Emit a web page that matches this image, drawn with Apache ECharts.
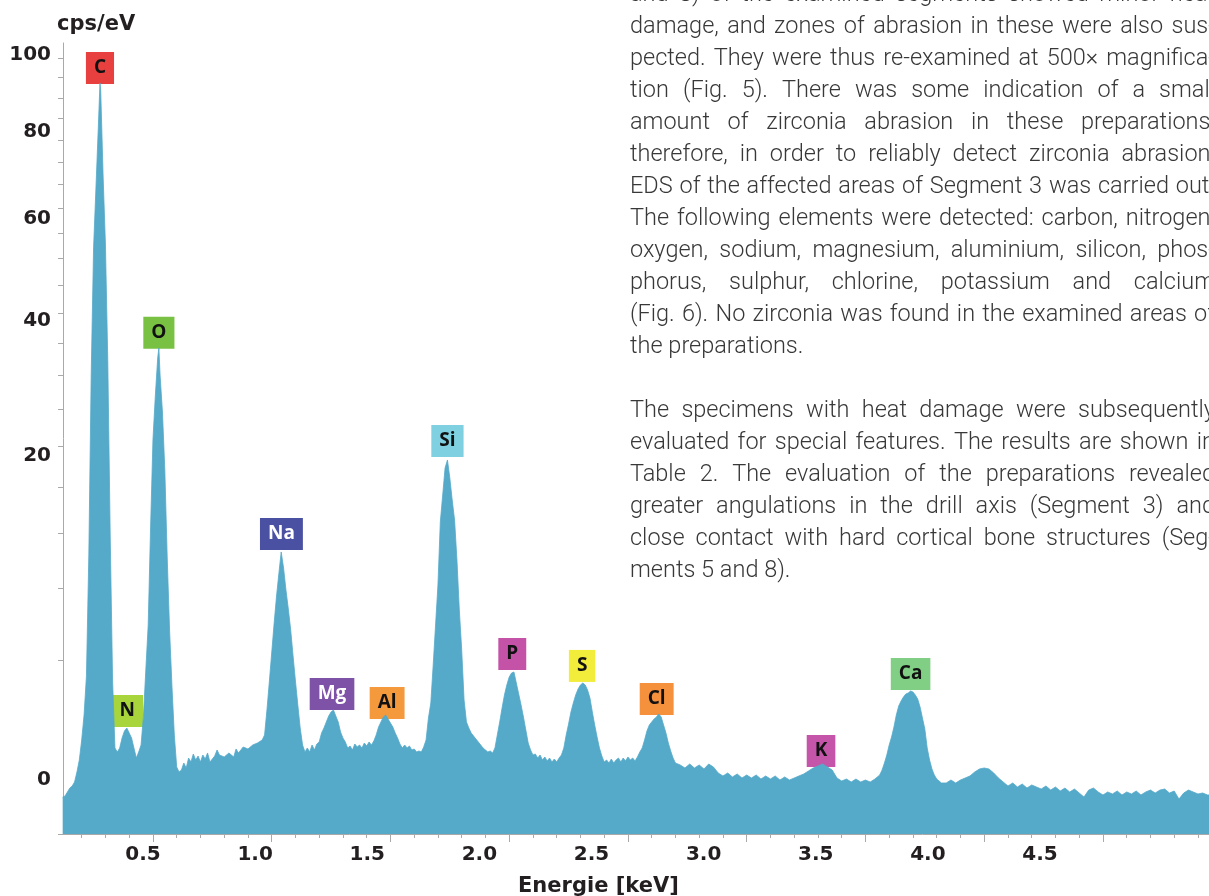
<!DOCTYPE html>
<html>
<head>
<meta charset="utf-8">
<script src="https://cdn.jsdelivr.net/npm/echarts@6/dist/echarts.min.js"></script>
<style>
html,body{margin:0;padding:0;background:#fff;}
#chart{width:1209px;height:896px;}
</style>
</head>
<body>
<div id="chart"></div>
<script>
// ---- Data (cps/eV vs energy in keV) ----
const energies = [
0.12,0.13,0.14,0.15,0.16,0.17,0.18,0.19,0.20,0.21,
0.22,0.23,0.24,0.25,0.26,0.27,0.277,0.28,0.29,0.30,
0.31,0.32,0.33,0.34,0.35,0.36,0.37,0.38,0.39,0.40,
0.41,0.42,0.43,0.44,0.45,0.46,0.47,0.48,0.49,0.50,
0.51,0.52,0.525,0.53,0.54,0.55,0.56,0.57,0.58,0.59,
0.60,0.61,0.62,0.63,0.64,0.65,0.66,0.67,0.68,0.69,
0.70,0.71,0.72,0.73,0.74,0.76,0.77,0.78,0.80,0.82,
0.84,0.85,0.86,0.88,0.90,0.92,0.94,0.96,0.97,0.98,
0.99,1.00,1.01,1.02,1.03,1.04,1.05,1.06,1.07,1.08,
1.09,1.10,1.11,1.12,1.13,1.14,1.15,1.16,1.17,1.18,
1.19,1.20,1.21,1.22,1.23,1.24,1.25,1.26,1.27,1.28,
1.29,1.30,1.31,1.32,1.33,1.34,1.35,1.36,1.37,1.38,
1.39,1.40,1.41,1.42,1.43,1.44,1.45,1.46,1.47,1.48,
1.49,1.50,1.51,1.52,1.53,1.54,1.55,1.56,1.57,1.58,
1.59,1.60,1.61,1.62,1.63,1.64,1.65,1.66,1.67,1.68,
1.69,1.70,1.71,1.72,1.73,1.74,1.75,1.76,1.77,1.78,
1.79,1.80,1.81,1.82,1.83,1.84,1.85,1.86,1.87,1.88,
1.89,1.90,1.91,1.92,1.93,1.94,1.95,1.96,1.97,1.98,
1.99,2.00,2.01,2.02,2.03,2.04,2.05,2.06,2.07,2.08,
2.09,2.10,2.11,2.12,2.13,2.14,2.15,2.16,2.17,2.18,
2.19,2.20,2.21,2.22,2.23,2.24,2.25,2.26,2.27,2.28,
2.29,2.30,2.31,2.32,2.33,2.34,2.35,2.36,2.37,2.38,
2.39,2.40,2.41,2.42,2.43,2.44,2.45,2.46,2.47,2.48,
2.49,2.50,2.51,2.52,2.53,2.54,2.55,2.56,2.57,2.58,
2.59,2.60,2.61,2.62,2.63,2.64,2.65,2.66,2.67,2.68,
2.69,2.70,2.72,2.74,2.76,2.78,2.80,2.82,2.84,2.86,
2.88,2.90,2.92,2.94,2.96,2.98,3.00,3.02,3.04,3.06,
3.08,3.10,3.12,3.14,3.16,3.18,3.20,3.22,3.24,3.26,
3.28,3.30,3.32,3.34,3.36,3.38,3.40,3.42,3.44,3.46,
3.48,3.50,3.52,3.54,3.56,3.57,3.58,3.59,3.60,3.61,
3.62,3.63,3.64,3.65,3.66,3.67,3.68,3.69,3.70,3.71,
3.72,3.73,3.74,3.75,3.76,3.77,3.78,3.79,3.80,3.82,
3.84,3.86,3.88,3.90,3.92,3.94,3.96,3.98,4.00,4.02,
4.04,4.06,4.08,4.10,4.12,4.14,4.16,4.18,4.20,4.22,
4.24,4.26,4.28,4.30,4.32,4.34,4.36,4.38,4.40,4.42,
4.44,4.46,4.48,4.50,4.52,4.54,4.56,4.58,4.60,4.62,
4.64,4.66,4.68,4.70,4.72,4.74,4.76,4.78,4.80,4.82,
4.84,4.86,4.88,4.90,4.92,4.94,4.96
];
const counts = [
0.227,0.240,0.293,0.351,0.383,0.449,0.638,0.909,1.467,2.352,
4.146,12.93,34.99,57.03,69.30,83.0,93.66,91.92,72.12,57.61,
36.84,14.85,3.938,1.228,1.117,1.228,1.530,1.762,1.866,1.694,
1.530,1.228,0.959,1.117,1.315,2.312,4.466,7.254,15.55,25.78,
31.86,37.63,39.22,34.99,29.57,22.00,12.74,6.911,3.637,1.628,
0.745,0.638,0.680,0.837,0.723,0.959,0.861,1.063,0.909,1.010,
0.861,1.036,0.934,1.090,0.861,1.010,1.172,1.036,0.985,1.090,
0.985,1.200,1.090,1.257,1.200,1.315,1.375,1.467,1.628,2.553,
3.837,5.440,7.323,9.327,11.23,13.21,11.75,9.887,8.407,6.911,
5.262,3.887,2.763,1.866,1.315,1.117,1.228,1.117,1.315,1.172,
1.345,1.406,1.694,1.866,2.083,2.312,2.472,2.553,2.312,2.083,
1.728,1.530,1.406,1.228,1.286,1.172,1.345,1.257,1.315,1.228,
1.375,1.286,1.406,1.315,1.436,1.628,1.901,2.083,2.273,2.352,
2.196,2.046,1.901,1.694,1.530,1.345,1.228,1.315,1.228,1.286,
1.172,1.200,1.117,1.144,1.117,1.257,1.467,2.235,2.850,4.743,
7.254,10.30,16.17,19.08,22.24,23.23,21.05,18.53,16.37,12.47,
8.332,5.622,2.982,2.083,1.866,1.694,1.595,1.499,1.406,1.315,
1.228,1.172,1.117,1.144,1.090,1.228,1.628,2.083,2.636,3.208,
3.687,4.093,4.304,4.358,3.786,3.255,2.763,2.273,1.796,1.375,
1.172,1.036,1.063,0.959,1.036,0.909,0.985,0.885,0.959,0.861,
0.934,0.861,0.959,1.036,1.228,1.628,2.009,2.472,2.850,3.208,
3.491,3.687,3.786,3.687,3.443,3.071,2.472,1.973,1.562,1.228,
1.010,0.861,0.909,0.837,0.934,0.837,0.909,0.959,0.861,0.959,
0.885,0.985,0.909,0.959,0.885,0.985,1.117,1.228,1.467,1.762,
1.973,2.083,2.196,2.273,2.391,2.273,1.973,1.694,1.375,1.144,
0.959,0.837,0.791,0.723,0.814,0.723,0.791,0.702,0.814,0.745,
0.618,0.559,0.618,0.540,0.598,0.521,0.578,0.521,0.578,0.502,
0.559,0.502,0.559,0.484,0.540,0.484,0.521,0.559,0.598,0.659,
0.723,0.768,0.814,0.745,0.680,0.521,0.466,0.502,0.449,0.502,
0.449,0.484,0.449,0.502,0.578,0.680,0.837,1.036,1.315,1.562,
1.901,2.352,2.721,2.937,3.117,3.255,3.301,3.396,3.348,3.208,
3.026,2.678,2.235,1.831,1.228,0.909,0.702,0.578,0.502,0.432,
0.432,0.484,0.432,0.484,0.521,0.559,0.638,0.702,0.723,0.702,
0.618,0.521,0.449,0.383,0.432,0.367,0.415,0.351,0.399,0.367,
0.336,0.383,0.321,0.367,0.307,0.351,0.293,0.336,0.279,0.227,
0.321,0.351,0.293,0.253,0.293,0.266,0.307,0.253,0.293,0.266,
0.307,0.253,0.293,0.321,0.279,0.321,0.336,0.279,0.307,0.203,
0.279,0.321,0.293,0.266,0.279,0.253,0.253
];

// Element peak labels
const peakNames    = ['C','N','O','Na','Mg','Al','Si','P','S','Cl','K','Ca'];
const peakEnergies = [0.277,0.392,0.525,1.041,1.254,1.486,1.740,2.013,2.307,2.621,3.313,3.690];
const peakValues   = [93.4,1.90,39.1,13.4,2.55,2.20,23.6,4.47,3.84,2.35,0.745,3.44];
const peakColors   = ['#e8403f','#a8d53c','#79c143','#4b51a2','#7e52a7','#f59a3c','#7fd0e1','#c452a6','#f2ec3b','#f5913d','#c555a9','#80cf84'];
const peakText     = ['#111','#111','#111','#fff','#fff','#111','#111','#111','#111','#111','#111','#111'];

// Tick labels
const yTickLabels = [0,20,40,60,80,100];
const xTickLabels = [0.5,1.0,1.5,2.0,2.5,3.0,3.5,4.0,4.5];

// Paragraph text beside the figure
const textLines = [
"and 8) of the examined segments showed minor heat",
"damage, and zones of abrasion in these were also sus-",
"pected. They were thus re-examined at 500× magnifica-",
"tion (Fig. 5). There was some indication of a small",
"amount of zirconia abrasion in these preparations;",
"therefore, in order to reliably detect zirconia abrasion,",
"EDS of the affected areas of Segment 3 was carried out.",
"The following elements were detected: carbon, nitrogen,",
"oxygen, sodium, magnesium, aluminium, silicon, phos-",
"phorus, sulphur, chlorine, potassium and calcium",
"(Fig. 6). No zirconia was found in the examined areas of",
"the preparations.",
"",
"The specimens with heat damage were subsequently",
"evaluated for special features. The results are shown in",
"Table 2. The evaluation of the preparations revealed",
"greater angulations in the drill axis (Segment 3) and",
"close contact with hard cortical bone structures (Seg-",
"ments 5 and 8)."
];
const lastLines = [11, 18];

// ---- Build ----
const minorTicks = [];
for (let n = 2; n <= 49; n++) minorTicks.push(n / 10);
const majorTicks = xTickLabels.slice();
const yTicks = [];
for (let n = 0; n <= 20; n++) yTicks.push(Math.sqrt(n * 5));

const axisGray = '#a9a9a9';
const boldFont = {fontFamily: 'DejaVu Sans', fontWeight: 'bold', fontSize: 20, color: '#231f20'};

const spectrum = energies.map((e, i) => [e, Math.sqrt(counts[i])]);
const peakData = peakNames.map((n, i) => ({
  name: n,
  value: [peakEnergies[i], Math.sqrt(peakValues[i])],
  label: {backgroundColor: peakColors[i], color: peakText[i]}
}));

// paragraph graphics (justified)
const paraFont = '300 23.5px Roboto';
const colLeft = 630, colRight = 1215, paraTop = -5, paraStep = 32.0;
const cv = document.createElement('canvas').getContext('2d');
cv.font = paraFont;
const gElems = [];
textLines.forEach((line, i) => {
  if (!line) return;
  const y = paraTop + i * paraStep;
  if (lastLines.indexOf(i) >= 0) {
    gElems.push({type: 'text', x: colLeft, y: y, silent: true,
      style: {text: line, font: paraFont, fill: '#383838', verticalAlign: 'middle'}});
    return;
  }
  const words = line.split(' ');
  const widths = words.map(w => cv.measureText(w).width);
  const total = widths.reduce((a, b) => a + b, 0);
  const gap = (colRight - colLeft - total) / (words.length - 1);
  let x = colLeft;
  words.forEach((w, k) => {
    gElems.push({type: 'text', x: x, y: y, silent: true,
      style: {text: w, font: paraFont, fill: '#383838', verticalAlign: 'middle'}});
    x += widths[k] + gap;
  });
});
gElems.push({type: 'text', x: 57, y: 25, silent: true,
  style: {text: 'cps/eV', font: 'bold 21px "DejaVu Sans"', fill: '#231f20', verticalAlign: 'middle'}});
gElems.push({type: 'text', x: 518, y: 887, silent: true,
  style: {text: 'Energie [keV]', font: 'bold 21px "DejaVu Sans"', fill: '#231f20', verticalAlign: 'middle'}});

const chart = echarts.init(document.getElementById('chart'), null, {renderer: 'canvas'});
chart.setOption({
  animation: false,
  backgroundColor: '#ffffff',
  grid: {left: 63, right: 0, top: 43, bottom: 62, containLabel: false},
  xAxis: [
    {type: 'value', min: 0.1213, max: 4.9465, position: 'bottom',
     axisLine: {show: true, onZero: false, lineStyle: {color: axisGray, width: 1}},
     axisTick: {show: true, customValues: minorTicks, length: 4, lineStyle: {color: axisGray}},
     axisLabel: {show: false}, splitLine: {show: false}},
    {type: 'value', min: 0.1213, max: 4.9465, position: 'bottom',
     axisLine: {show: false, onZero: false},
     axisTick: {show: true, customValues: majorTicks, length: 8, lineStyle: {color: axisGray}},
     axisLabel: {show: false}, splitLine: {show: false}},
    {type: 'value', min: 0.14314, max: 5.25351, position: 'bottom',
     axisLine: {show: false, onZero: false}, axisTick: {show: false},
     axisLabel: Object.assign({show: true, customValues: xTickLabels, margin: 11,
       formatter: v => Number(v).toFixed(1)}, boldFont),
     splitLine: {show: false}}
  ],
  yAxis: [
    {type: 'value', min: 0, max: 10.193, position: 'left',
     axisLine: {show: true, onZero: false, lineStyle: {color: axisGray, width: 1}},
     axisTick: {show: true, customValues: yTicks, length: 5, lineStyle: {color: axisGray}},
     axisLabel: {show: false}, splitLine: {show: false}},
    {type: 'value', min: -0.7537, max: 10.166, position: 'left',
     axisLine: {show: false, onZero: false}, axisTick: {show: false},
     axisLabel: Object.assign({show: true, customValues: yTickLabels.map(Math.sqrt), margin: 12,
       formatter: v => String(Math.round(v * v))}, boldFont),
     splitLine: {show: false}}
  ],
  series: [
    {type: 'line', xAxisIndex: 0, yAxisIndex: 0, data: spectrum, symbol: 'none',
     silent: true, smooth: false,
     lineStyle: {width: 0.8, color: '#55a9c9'},
     areaStyle: {color: '#55a9c9', opacity: 1, origin: 'start'}},
    {type: 'scatter', xAxisIndex: 0, yAxisIndex: 0, data: peakData, symbolSize: 0,
     silent: true, itemStyle: {opacity: 1},
     label: {show: true, position: 'top', distance: 0, formatter: p => p.name, opacity: 1,
       fontFamily: 'Open Sans', fontWeight: 'bold', fontSize: 19, lineHeight: 20,
       padding: [6, 8, 6, 8]}}
  ],
  graphic: {elements: gElems}
});
</script>
</body>
</html>
